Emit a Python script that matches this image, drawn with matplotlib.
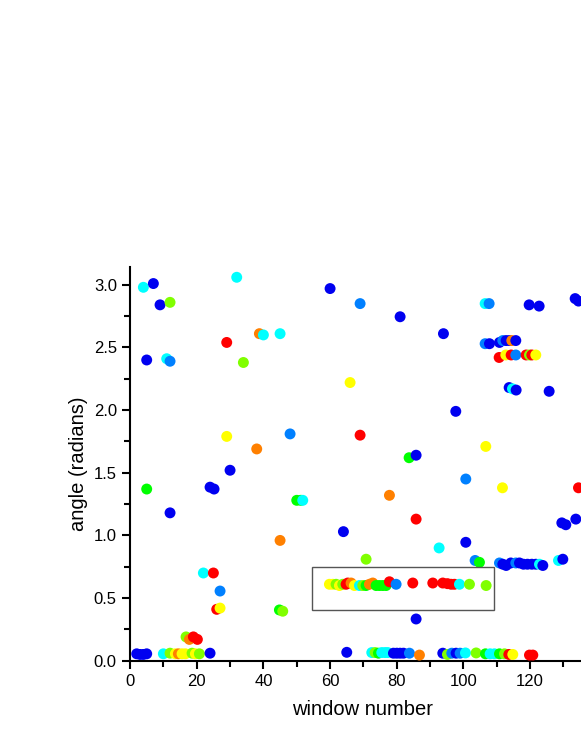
import matplotlib
matplotlib.use("Agg")
import matplotlib.pyplot as plt
from matplotlib.patches import Rectangle
from matplotlib.ticker import MultipleLocator, FormatStrFormatter

plt.rcParams['font.family'] = ['Liberation Sans', 'DejaVu Sans']

# colour codes along the jet scale
palette = {'B': '#0000F0', 'A': '#0080FF', 'C': '#00FFFF', 'G': '#00FF00',
           'L': '#80FF00', 'Y': '#FFFF00', 'O': '#FF8000', 'R': '#FF0000'}

# upper part of the plot
window_top = [4, 7, 9, 12, 5, 11, 12, 32, 60, 29, 38.8, 40, 45, 34, 66, 29, 38, 48,
              69, 81, 94, 106.5, 107.7, 119.7, 122.7, 133.5, 134.5,
              106.5, 107.8, 110.8, 111.8, 112.8, 113.8, 114.5, 115.7,
              110.7, 112.7, 114.3, 115.7, 118.8, 119.8, 120.5, 121.7,
              113.7, 114.7, 115.8, 125.7, 97.7, 69, 106.7, 83.7, 85.8,
              100.7, 111.7, 134.5, 129.5, 130.7, 133.7, 77.8, 85.8, 64]
angle_top = [2.98, 3.01, 2.84, 2.86, 2.40, 2.41, 2.39, 3.06, 2.97, 2.54, 2.61, 2.60, 2.61, 2.38, 2.22, 1.79, 1.69, 1.81,
             2.85, 2.745, 2.61, 2.85, 2.85, 2.84, 2.83, 2.89, 2.87,
             2.53, 2.53, 2.54, 2.555, 2.555, 2.555, 2.555, 2.555,
             2.42, 2.44, 2.44, 2.44, 2.44, 2.44, 2.44, 2.44,
             2.18, 2.17, 2.16, 2.15, 1.99, 1.80, 1.71, 1.62, 1.64,
             1.45, 1.38, 1.38, 1.10, 1.085, 1.13, 1.32, 1.13, 1.03]
hue_top = ['C', 'B', 'B', 'L', 'B', 'C', 'A', 'C', 'B', 'R', 'O', 'C', 'C', 'L', 'Y', 'Y', 'O', 'A',
           'A', 'B', 'B', 'C', 'A', 'B', 'B', 'B', 'B',
           'A', 'B', 'B', 'A', 'B', 'B', 'O', 'B',
           'R', 'Y', 'R', 'A', 'R', 'L', 'R', 'Y',
           'B', 'C', 'B', 'B', 'B', 'R', 'Y', 'G', 'B',
           'A', 'Y', 'R', 'B', 'B', 'B', 'O', 'R', 'B']

# middle band (0.3 - 1.5)
window_mid = [70.8, 92.7, 100.7, 103.5, 104.8,
              110.8, 111.8, 112.8, 114.2, 115.7, 116.8, 118, 119.2, 120.5, 121.7, 122.8, 123.8,
              128.5, 129.8, 85.8,
              5, 12, 24, 25.2, 30, 50, 51.2, 51.8, 45, 22, 25, 27, 26, 27, 44.8, 45.8]
angle_mid = [0.81, 0.90, 0.945, 0.80, 0.785,
             0.78, 0.77, 0.76, 0.78, 0.78, 0.78, 0.77, 0.77, 0.77, 0.77, 0.77, 0.76,
             0.80, 0.81, 0.333,
             1.37, 1.18, 1.385, 1.37, 1.52, 1.28, 1.28, 1.28, 0.96, 0.70, 0.70, 0.556, 0.41, 0.42, 0.405, 0.395]
hue_mid = ['L', 'C', 'B', 'A', 'G',
           'A', 'B', 'B', 'B', 'A', 'B', 'B', 'B', 'B', 'B', 'C', 'B',
           'C', 'B', 'B',
           'G', 'B', 'B', 'B', 'B', 'G', 'G', 'C', 'O', 'C', 'R', 'A', 'R', 'Y', 'G', 'L']

# boxed row near 0.6
window_box = [59.8, 60.8, 61.8, 62.8, 63.8, 64.8, 65.3, 66.3, 67.3, 68.8, 69.8, 70.8, 71.8, 72.8,
              73.8, 74.8, 75.8, 76.8, 77.8, 79.8, 84.8, 90.8, 93.8, 95.2, 96.3, 97.3, 98.8, 101.8, 106.8]
angle_box = [0.61, 0.61, 0.61, 0.60, 0.61, 0.61, 0.62, 0.62, 0.60, 0.60, 0.60, 0.60, 0.61, 0.62,
             0.60, 0.60, 0.60, 0.60, 0.63, 0.61, 0.62, 0.62, 0.62, 0.615, 0.61, 0.61, 0.61, 0.61, 0.60]
hue_box = ['Y', 'Y', 'L', 'Y', 'L', 'R', 'R', 'O', 'Y', 'C', 'L', 'G', 'O', 'O',
           'G', 'G', 'G', 'G', 'R', 'A', 'R', 'R', 'R', 'R', 'R', 'R', 'C', 'L', 'L']

# bottom row near zero
window_low = [2, 3, 4, 5, 10, 12, 13.6, 14.5, 15.6, 16.6, 18.6, 19.6, 20.8, 24,
              16.8, 17.8, 19, 20.2,
              65, 72.5, 73.5, 74.5, 75.5, 76.5, 77.3, 79, 80, 81, 82, 83.8, 86.8,
              93.8, 95.2, 96.5, 97.8, 99, 100.6, 103.8, 106.6, 108, 109.3, 110.8, 112.3, 113.6, 114.8, 119.8, 120.8]
angle_low = [0.055, 0.05, 0.05, 0.055, 0.055, 0.06, 0.055, 0.055, 0.055, 0.055, 0.06, 0.055, 0.055, 0.06,
             0.19, 0.17, 0.19, 0.17,
             0.067, 0.065, 0.065, 0.06, 0.065, 0.065, 0.065, 0.06, 0.06, 0.06, 0.06, 0.06, 0.045,
             0.06, 0.05, 0.06, 0.06, 0.06, 0.062, 0.062, 0.055, 0.055, 0.055, 0.055, 0.055, 0.05, 0.05, 0.045, 0.045]
hue_low = ['B', 'B', 'B', 'B', 'C', 'L', 'Y', 'O', 'Y', 'Y', 'L', 'Y', 'L', 'B',
           'L', 'O', 'R', 'R',
           'B', 'C', 'L', 'G', 'C', 'C', 'C', 'B', 'B', 'B', 'B', 'A', 'O',
           'B', 'L', 'A', 'B', 'A', 'C', 'L', 'G', 'C', 'C', 'G', 'L', 'R', 'Y', 'R', 'R']

window = window_top + window_mid + window_box + window_low
angle = angle_top + angle_mid + angle_box + angle_low
hue = hue_top + hue_mid + hue_box + hue_low

fig = plt.figure(figsize=(5.81, 7.52), dpi=100)
ax = fig.add_axes([0.2238, 0.1214, 0.8, 0.5232])

ax.scatter(window, angle, s=62, c=[palette[h] for h in hue], edgecolors='none',
           zorder=3, clip_on=True)

# highlight box around the 0.6 row
ax.add_patch(Rectangle((54.7, 0.405), 54.5, 0.34, fill=False, edgecolor='#555555',
                       linewidth=1.0, zorder=4))

ax.set_xlim(0, 139.4)
ax.set_ylim(0, 3.14)
ax.xaxis.set_major_locator(MultipleLocator(20))
ax.xaxis.set_minor_locator(MultipleLocator(10))
ax.yaxis.set_major_locator(MultipleLocator(0.5))
ax.yaxis.set_minor_locator(MultipleLocator(0.25))
ax.yaxis.set_major_formatter(FormatStrFormatter('%.1f'))

for side in ['top', 'right']:
    ax.spines[side].set_visible(False)
for side in ['left', 'bottom']:
    ax.spines[side].set_linewidth(1.5)

ax.tick_params(which='major', direction='out', length=6, width=1.5, labelsize=12)
ax.tick_params(which='minor', direction='out', length=4, width=1.5)

ax.set_xlabel('window number', fontsize=14.5, labelpad=8)
ax.set_ylabel('angle (radians)', fontsize=14.5, labelpad=4)

fig.savefig("out.png", dpi=100)
